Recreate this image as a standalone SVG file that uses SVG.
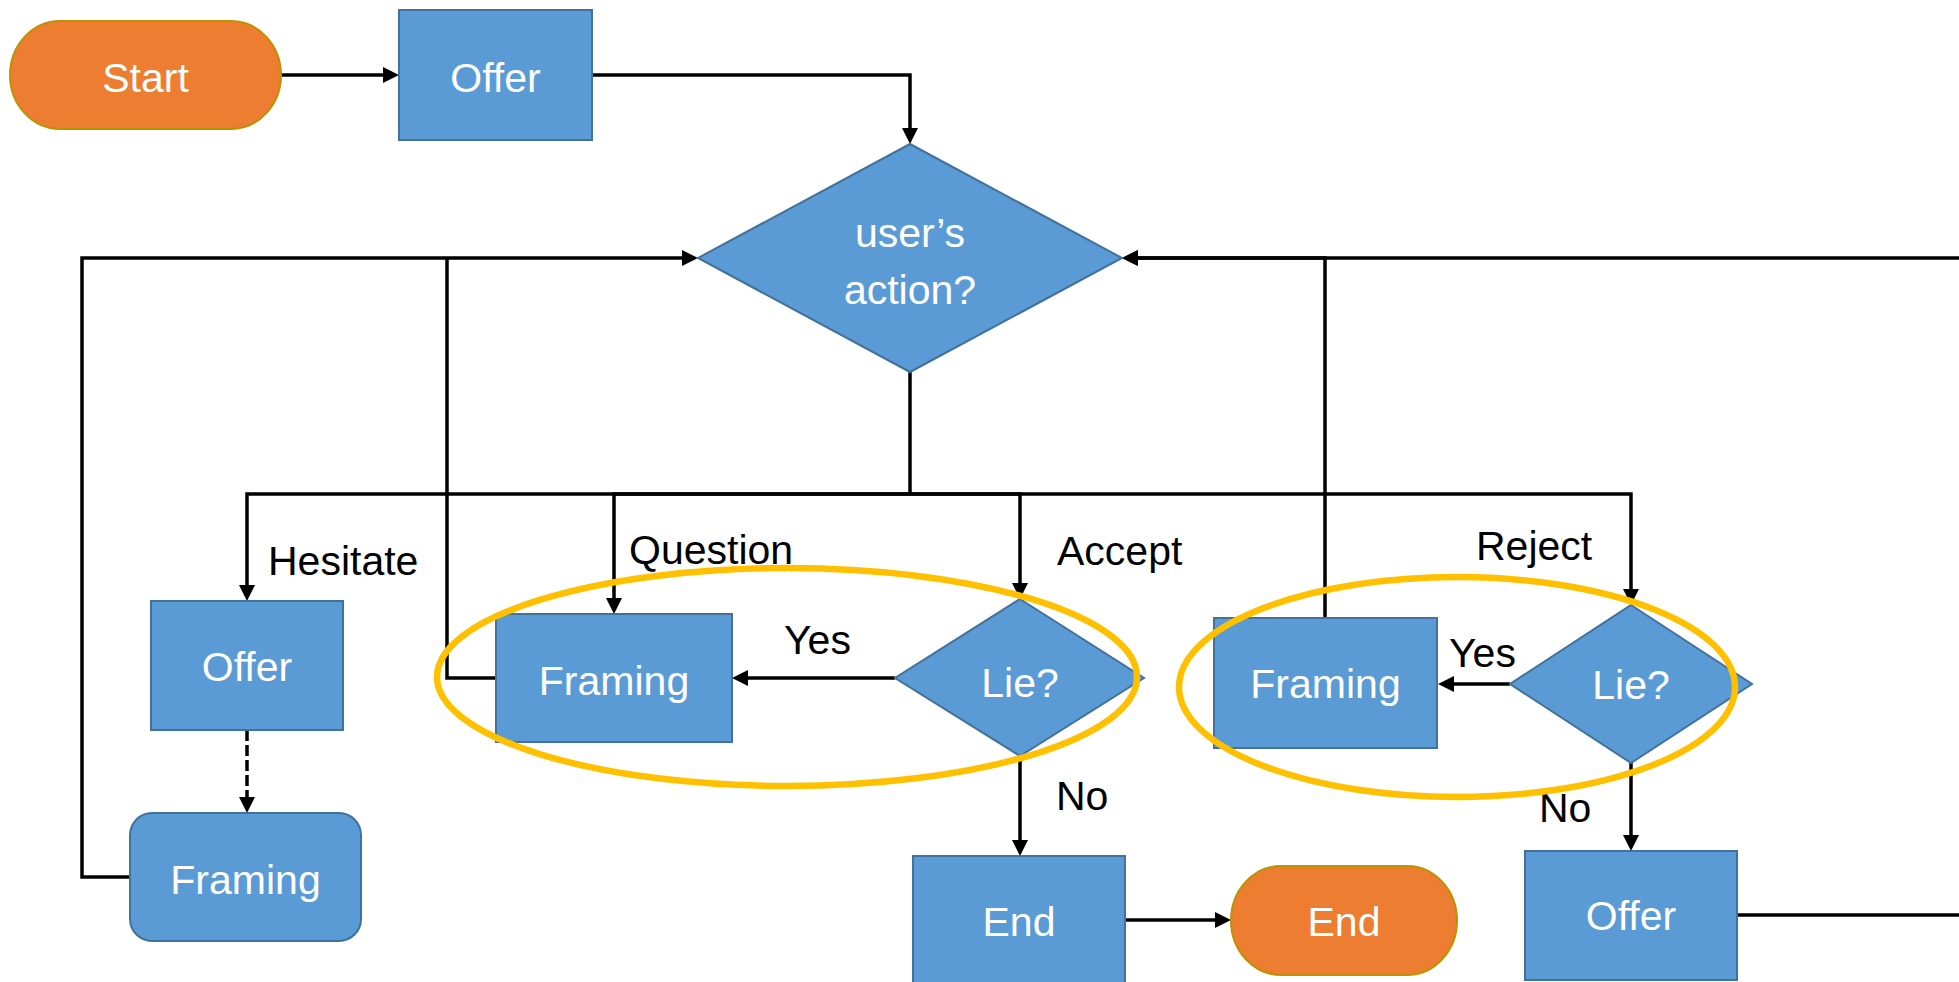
<svg xmlns="http://www.w3.org/2000/svg" width="1959" height="982" viewBox="0 0 1959 982">
  <defs>
    <style>
      .box { fill: #5B9BD5; stroke: #41719C; stroke-width: 2; }
      .term { fill: #ED7D31; stroke: #BF9000; stroke-width: 2; }
      .nt { font-family: "Liberation Sans", Arial, sans-serif; font-size: 41px; fill: #FFFFFF; text-anchor: middle; }
      .lbl { font-family: "Liberation Sans", Arial, sans-serif; font-size: 41px; fill: #000000; }
      .c { fill: none; stroke: #000000; stroke-width: 3.5; }
      .dash { stroke-dasharray: 11 4; }
      .hl { fill: none; stroke: #FFC000; stroke-width: 6.5; }
    </style>
    <marker id="arrow" markerUnits="userSpaceOnUse" markerWidth="16" markerHeight="16" refX="8" refY="8" orient="auto">
      <path d="M0,0 L16,8 L0,16 Z" fill="#000000"/>
    </marker>
  </defs>

  <rect width="1959" height="982" fill="#FFFFFF"/>

  <!-- connectors -->
  <g id="connectors">
    <path class="c" d="M281,75 H391" marker-end="url(#arrow)"/>
    <path class="c" d="M592,75 H910 V136" marker-end="url(#arrow)"/>
    <path class="c" d="M910,372 V494"/>
    <path class="c" d="M910,494 H247 V593" marker-end="url(#arrow)"/>
    <path class="c" d="M910,494 H614 V606" marker-end="url(#arrow)"/>
    <path class="c" d="M910,494 H1020 V591" marker-end="url(#arrow)"/>
    <path class="c" d="M910,494 H1631 V597" marker-end="url(#arrow)"/>
    <path class="c" d="M895,678 H740" marker-end="url(#arrow)"/>
    <path class="c" d="M1020,756 V848" marker-end="url(#arrow)"/>
    <path class="c" d="M1125,920 H1223" marker-end="url(#arrow)"/>
    <path class="c" d="M1510,684 H1446" marker-end="url(#arrow)"/>
    <path class="c" d="M1631,763 V843" marker-end="url(#arrow)"/>
    <path class="c dash" d="M247,730 V805" marker-end="url(#arrow)"/>
    <path class="c" d="M130,877 H82 V258 H690" marker-end="url(#arrow)"/>
    <path class="c" d="M496,678 H447 V258"/>
    <path class="c" d="M1325,618 V258 H1130" marker-end="url(#arrow)"/>
    <path class="c" d="M1737,915 H1980 V258 H1130" marker-end="url(#arrow)"/>
  </g>

  <!-- nodes -->
  <g id="start">
    <rect class="term" x="10" y="21" width="271" height="108" rx="50" ry="54"/>
    <text class="nt" x="145.5" y="92">Start</text>
  </g>
  <g id="offer-top">
    <rect class="box" x="399" y="10" width="193" height="130"/>
    <text class="nt" x="495.5" y="92">Offer</text>
  </g>
  <g id="user-action">
    <polygon class="box" points="910,144 1122,258 910,372 698,258"/>
    <text class="nt" x="910" y="247">user’s</text>
    <text class="nt" x="910" y="304">action?</text>
  </g>
  <g id="offer-hesitate">
    <rect class="box" x="151" y="601" width="192" height="129"/>
    <text class="nt" x="247" y="681">Offer</text>
  </g>
  <g id="framing-hesitate">
    <rect class="box" x="130" y="813" width="231" height="128" rx="22" ry="22"/>
    <text class="nt" x="245.5" y="894">Framing</text>
  </g>
  <g id="framing-question">
    <rect class="box" x="496" y="614" width="236" height="128"/>
    <text class="nt" x="614" y="695">Framing</text>
  </g>
  <g id="lie-accept">
    <polygon class="box" points="1020,599 1144,678 1020,756 895,678"/>
    <text class="nt" x="1020" y="697">Lie?</text>
  </g>
  <g id="end-box">
    <rect class="box" x="913" y="856" width="212" height="140"/>
    <text class="nt" x="1019" y="936">End</text>
  </g>
  <g id="end">
    <rect class="term" x="1231" y="866" width="226" height="109" rx="50" ry="54.5"/>
    <text class="nt" x="1344" y="936">End</text>
  </g>
  <g id="framing-reject">
    <rect class="box" x="1214" y="618" width="223" height="130"/>
    <text class="nt" x="1325.5" y="698">Framing</text>
  </g>
  <g id="lie-reject">
    <polygon class="box" points="1631,605 1752,684 1631,763 1510,684"/>
    <text class="nt" x="1631" y="699">Lie?</text>
  </g>
  <g id="offer-reject">
    <rect class="box" x="1525" y="851" width="212" height="129"/>
    <text class="nt" x="1631" y="930">Offer</text>
  </g>

  <!-- branch labels -->
  <g id="labels">
    <text class="lbl" x="268" y="575">Hesitate</text>
    <text class="lbl" x="629" y="564">Question</text>
    <text class="lbl" x="1057" y="565">Accept</text>
    <text class="lbl" x="1476" y="560">Reject</text>
    <text class="lbl" x="784" y="654">Yes</text>
    <text class="lbl" x="1449" y="667">Yes</text>
    <text class="lbl" x="1056" y="810">No</text>
    <text class="lbl" x="1539" y="822">No</text>
  </g>

  <!-- highlight rings -->
  <g id="highlights">
    <ellipse class="hl" cx="787" cy="677" rx="350" ry="109"/>
    <ellipse class="hl" cx="1457" cy="687" rx="278" ry="110"/>
  </g>
</svg>
